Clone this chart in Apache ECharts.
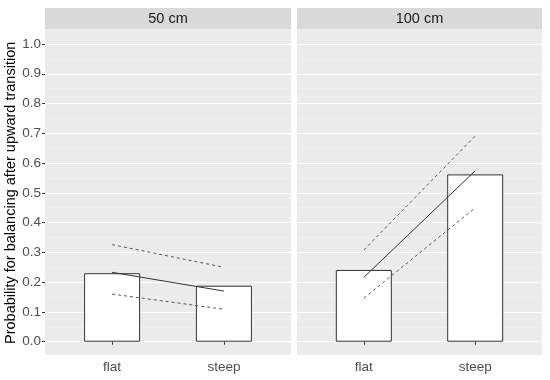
<!DOCTYPE html>
<html>
<head>
<meta charset="utf-8">
<script src="https://cdn.jsdelivr.net/npm/echarts@6/dist/echarts.min.js"></script>
<style>html,body{margin:0;padding:0;background:#fff}#c{width:550px;height:380px}</style>
</head>
<body>
<div id="c"></div>
<script>
// ---- data ----
var categories = ['flat', 'steep'];
var panels = ['50 cm', '100 cm'];
var yTicks = [0, 0.1, 0.2, 0.3, 0.4, 0.5, 0.6, 0.7, 0.8, 0.9, 1.0];
var bar50 = [0.230, 0.188];
var fit50 = [0.233, 0.170];
var upper50 = [0.326, 0.250];
var lower50 = [0.160, 0.109];
var bar100 = [0.241, 0.562];
var fit100 = [0.216, 0.574];
var upper100 = [0.308, 0.691];
var lower100 = [0.146, 0.450];

var chart = echarts.init(document.getElementById('c'), null, {renderer: 'canvas'});
var FONT = 'Liberation Sans, Arial, sans-serif';

var panelBoxes = [{left: 45, width: 246}, {left: 297, width: 245}];
var PANEL_TOP = 29, PANEL_BOTTOM = 355, STRIP_TOP = 8;

function pts(vals) { return categories.map(function (c, i) { return [i + 1, vals[i]]; }); }

var grids = panelBoxes.map(function (p) {
  return {left: p.left, width: p.width, top: 44, bottom: 380 - 341.7, containLabel: false};
});

var xAxes = panelBoxes.map(function (p, gi) {
  return {
    type: 'value', gridIndex: gi, min: 0.4, max: 2.6, offset: PANEL_BOTTOM - 341.7,
    axisLine: {show: false},
    splitLine: {show: false},
    axisTick: {show: true, length: 3, customValues: [1, 2], lineStyle: {color: '#333', width: 1}},
    axisLabel: {customValues: [1, 2], margin: 5, fontSize: 13.5, fontFamily: FONT, color: '#4d4d4d',
      formatter: function (v) { return categories[Math.round(v) - 1] || ''; }}
  };
});

var yAxes = panelBoxes.map(function (p, gi) {
  return {
    type: 'value', gridIndex: gi, min: 0, max: 1, interval: 0.1,
    name: gi === 0 ? 'Probability for balancing after upward transition' : '',
    nameLocation: 'middle', nameGap: 26,
    nameTextStyle: {fontSize: 14.5, fontFamily: FONT, color: '#000'},
    axisLine: {show: false},
    axisTick: {show: gi === 0, length: 3, lineStyle: {color: '#333', width: 1}},
    axisLabel: {show: gi === 0, margin: 4, fontSize: 13.5, fontFamily: FONT, color: '#4d4d4d',
      formatter: function (v) { return v.toFixed(1); }},
    splitLine: {show: true, lineStyle: {color: '#ffffff', width: 1.1}},
    minorTick: {show: false, splitNumber: 2},
    minorSplitLine: {show: true, lineStyle: {color: '#f5f5f5', width: 0.6}}
  };
});

var series = [];
function addPanel(gi, bars, fit, up, lo) {
  series.push({type: 'bar', xAxisIndex: gi, yAxisIndex: gi, data: pts(bars), barWidth: 56,
    itemStyle: {color: '#ffffff', borderColor: '#333333', borderWidth: 1}, silent: true, z: 2});
  series.push({type: 'line', xAxisIndex: gi, yAxisIndex: gi, data: pts(fit), showSymbol: false,
    lineStyle: {color: '#333333', width: 1, type: 'solid'}, silent: true, z: 3});
  [up, lo].forEach(function (d) {
    series.push({type: 'line', xAxisIndex: gi, yAxisIndex: gi, data: pts(d), showSymbol: false,
      lineStyle: {color: '#555555', width: 1, type: [3, 3]}, silent: true, z: 3});
  });
}
addPanel(0, bar50, fit50, upper50, lower50);
addPanel(1, bar100, fit100, upper100, lower100);

var graphic = [];
panelBoxes.forEach(function (p, i) {
  graphic.push({type: 'rect', z: -10, silent: true,
    shape: {x: p.left, y: PANEL_TOP, width: p.width, height: PANEL_BOTTOM - PANEL_TOP},
    style: {fill: '#ebebeb'}});
  graphic.push({type: 'rect', z: -10, silent: true,
    shape: {x: p.left, y: STRIP_TOP, width: p.width, height: PANEL_TOP - STRIP_TOP},
    style: {fill: '#d9d9d9'}});
  graphic.push({type: 'text', z: 10, silent: true, x: p.left + p.width / 2, y: (STRIP_TOP + PANEL_TOP) / 2,
    style: {text: panels[i], fill: '#1a1a1a', font: '14.5px ' + FONT, align: 'center', verticalAlign: 'middle'}});
});

chart.setOption({
  animation: false,
  backgroundColor: '#ffffff',
  grid: grids,
  xAxis: xAxes,
  yAxis: yAxes,
  series: series,
  graphic: graphic
});
</script>
</body>
</html>
